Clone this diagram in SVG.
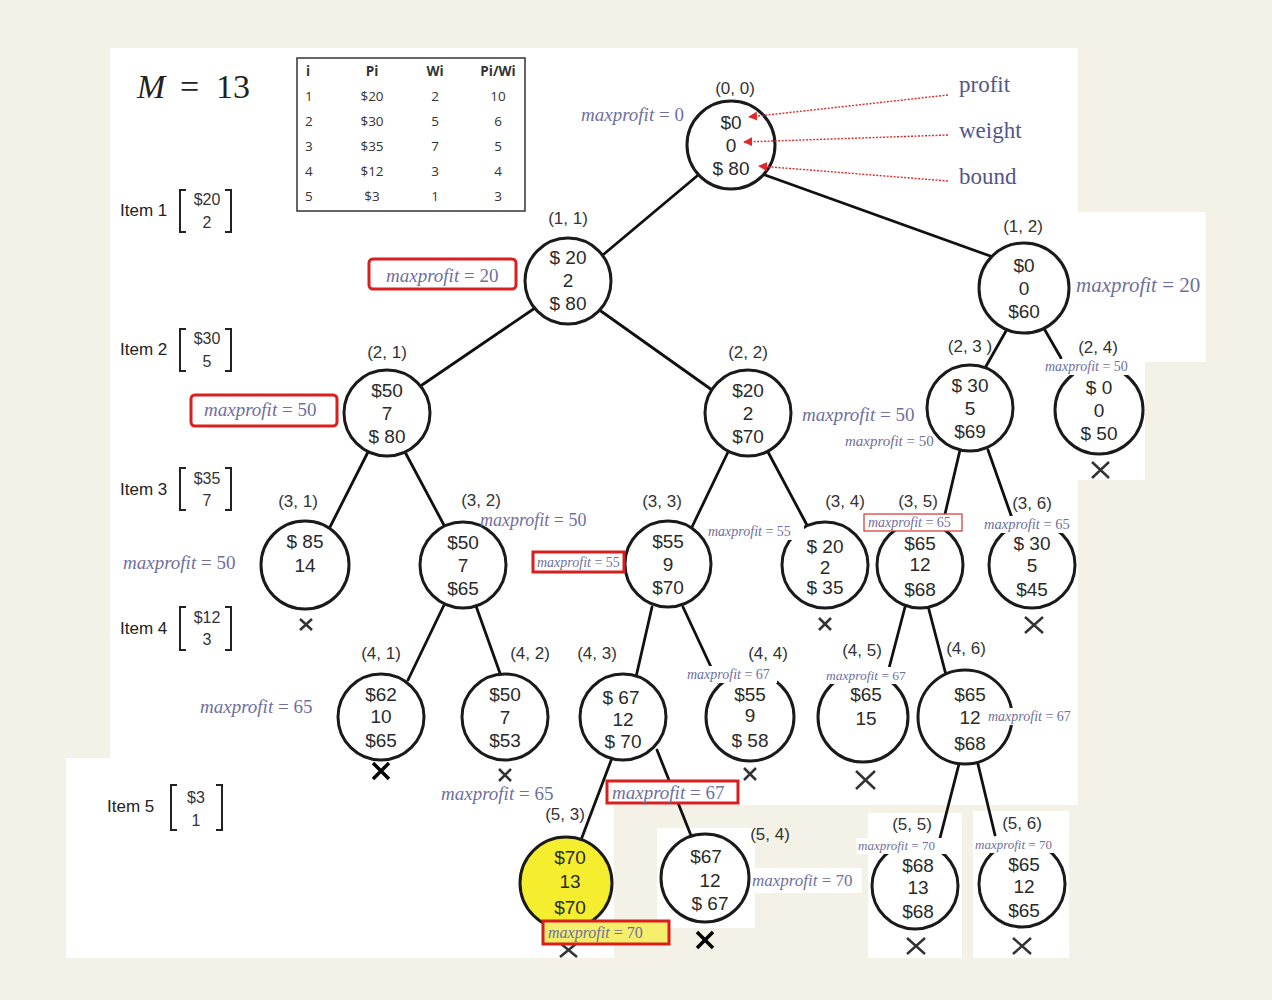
<svg xmlns="http://www.w3.org/2000/svg" width="1272" height="1000" viewBox="0 0 1272 1000">
<defs>
<style>
.bg{fill:#f4f2e6}
.pn{fill:#ffffff}
.wb{fill:#ffffff}
.nd{fill:#ffffff;stroke:#1a1a1a;stroke-width:3}
.nt{font-family:"Liberation Sans",Arial,sans-serif;font-size:19px;fill:#2a2a2a;text-anchor:middle}
.lb{font-family:"Liberation Sans",Arial,sans-serif;font-size:17px;fill:#333;text-anchor:middle}
.ed{stroke:#111;stroke-width:2.8;fill:none;stroke-linecap:round}
.mp{font-family:"Liberation Serif","Times New Roman",serif;fill:#6f6f9f}
.it{font-style:italic}
.rb{fill:#ffffff;stroke:#d81e1e;stroke-width:3}
.tb{font-family:"Open Sans","Liberation Sans",sans-serif;font-size:13.5px;fill:#333}
.item{font-family:"Liberation Sans",Arial,sans-serif;font-size:17px;fill:#222}
.br{fill:none;stroke:#222;stroke-width:2}
.bt{font-family:"Liberation Sans",Arial,sans-serif;font-size:16px;fill:#333;text-anchor:middle}
.x{stroke:#333;stroke-width:2.5;fill:none}
.xb{stroke:#000;stroke-width:3.5;fill:none}
.rl{font-family:"Liberation Serif","Times New Roman",serif;font-size:23px;fill:#55558a}
.ra{stroke:#e02828;stroke-width:1.4;stroke-dasharray:2 1.5;fill:none}
</style>
<marker id="ah" viewBox="0 0 10 10" refX="9" refY="5" markerWidth="9" markerHeight="9" markerUnits="userSpaceOnUse" orient="auto">
<path d="M0,0 L10,5 L0,10 z" fill="#e02828"/>
</marker>
</defs>

<g id="background">
<rect class="bg" x="0" y="0" width="1272" height="1000"/>
<rect class="pn" x="110" y="48" width="968" height="757"/>
<rect class="pn" x="66" y="758" width="548" height="200"/>
<rect class="pn" x="1078" y="212" width="128" height="150"/>
<rect class="pn" x="1078" y="362" width="67" height="118"/>
<rect class="pn" x="657" y="828" width="98" height="100"/>
<rect class="pn" x="738" y="868" width="124" height="25"/>
<rect class="pn" x="868" y="813" width="94" height="145"/>
<rect class="pn" x="973" y="811" width="96" height="147"/>
</g>

<g id="title">
<text x="137" y="98" font-family="Liberation Serif,serif" font-size="34" fill="#222"><tspan font-style="italic">M</tspan><tspan x="180">=</tspan><tspan x="216">13</tspan></text>
</g>

<g id="table">
<rect x="297" y="58" width="228" height="153" fill="none" stroke="#333" stroke-width="1.5"/>
<g class="tb" font-weight="bold">
<text x="306" y="76">i</text><text x="372" y="76" text-anchor="middle">Pi</text><text x="435" y="76" text-anchor="middle">Wi</text><text x="498" y="76" text-anchor="middle">Pi/Wi</text>
</g>
<g class="tb">
<text x="305" y="101">1</text><text x="372" y="101" text-anchor="middle">$20</text><text x="435" y="101" text-anchor="middle">2</text><text x="498" y="101" text-anchor="middle">10</text>
<text x="305" y="126">2</text><text x="372" y="126" text-anchor="middle">$30</text><text x="435" y="126" text-anchor="middle">5</text><text x="498" y="126" text-anchor="middle">6</text>
<text x="305" y="151">3</text><text x="372" y="151" text-anchor="middle">$35</text><text x="435" y="151" text-anchor="middle">7</text><text x="498" y="151" text-anchor="middle">5</text>
<text x="305" y="176">4</text><text x="372" y="176" text-anchor="middle">$12</text><text x="435" y="176" text-anchor="middle">3</text><text x="498" y="176" text-anchor="middle">4</text>
<text x="305" y="201">5</text><text x="372" y="201" text-anchor="middle">$3</text><text x="435" y="201" text-anchor="middle">1</text><text x="498" y="201" text-anchor="middle">3</text>
</g>
</g>

<g id="items">
<text class="item" x="120" y="216">Item 1</text>
<path class="br" d="M186,190 H180 V232 H186 M225,190 H231 V232 H225"/>
<text class="bt" x="207" y="205">$20</text><text class="bt" x="207" y="228">2</text>
<text class="item" x="120" y="355">Item 2</text>
<path class="br" d="M186,329 H180 V371 H186 M225,329 H231 V371 H225"/>
<text class="bt" x="207" y="344">$30</text><text class="bt" x="207" y="367">5</text>
<text class="item" x="120" y="495">Item 3</text>
<path class="br" d="M186,468 H180 V510 H186 M225,468 H231 V510 H225"/>
<text class="bt" x="207" y="484">$35</text><text class="bt" x="207" y="506">7</text>
<text class="item" x="120" y="634">Item 4</text>
<path class="br" d="M186,607 H180 V650 H186 M225,607 H231 V650 H225"/>
<text class="bt" x="207" y="623">$12</text><text class="bt" x="207" y="645">3</text>
<text class="item" x="107" y="812">Item 5</text>
<path class="br" d="M177,785 H171 V830 H177 M216,785 H222 V830 H216"/>
<text class="bt" x="196" y="803">$3</text><text class="bt" x="196" y="826">1</text>
</g>

<g id="connectors">
<line class="ed" x1="697" y1="176" x2="604" y2="254"/>
<line class="ed" x1="765" y1="175" x2="993" y2="257" stroke-width="3.5"/>
<line class="ed" x1="535" y1="308" x2="422" y2="385"/>
<line class="ed" x1="598" y1="309" x2="712" y2="390"/>
<line class="ed" x1="1006" y1="331" x2="985" y2="368"/>
<line class="ed" x1="1042" y1="325" x2="1061" y2="358"/>
<line class="ed" x1="368" y1="452" x2="330" y2="527"/>
<line class="ed" x1="405" y1="452" x2="445" y2="527"/>
<line class="ed" x1="728" y1="452" x2="692" y2="527"/>
<line class="ed" x1="768" y1="452" x2="808" y2="527"/>
<line class="ed" x1="960" y1="450" x2="945" y2="514"/>
<line class="ed" x1="988" y1="450" x2="1012" y2="518"/>
<line class="ed" x1="445" y1="603" x2="408" y2="680"/>
<line class="ed" x1="476" y1="606" x2="501" y2="676"/>
<line class="ed" x1="652" y1="607" x2="636" y2="677"/>
<line class="ed" x1="683" y1="607" x2="718" y2="682"/>
<line class="ed" x1="905" y1="607" x2="888" y2="672"/>
<line class="ed" x1="928" y1="606" x2="946" y2="675"/>
<line class="ed" x1="612" y1="758" x2="581" y2="840"/>
<line class="ed" x1="657" y1="750" x2="692" y2="838"/>
<line class="ed" x1="960" y1="760" x2="940" y2="838"/>
<line class="ed" x1="977" y1="760" x2="995" y2="835"/>
</g>

<g id="n00"><text class="lb" x="735" y="94">(0, 0)</text><circle class="nd" cx="731" cy="145" r="44"/><text class="nt" x="731" y="129">$0</text><text class="nt" x="731" y="152">0</text><text class="nt" x="731" y="175">$ 80</text></g>
<g id="n11"><text class="lb" x="568" y="224">(1, 1)</text><circle class="nd" cx="568" cy="281" r="43"/><text class="nt" x="568" y="264">$ 20</text><text class="nt" x="568" y="287">2</text><text class="nt" x="568" y="310">$ 80</text></g>
<g id="n12"><text class="lb" x="1023" y="232">(1, 2)</text><circle class="nd" cx="1024" cy="288" r="45"/><text class="nt" x="1024" y="272">$0</text><text class="nt" x="1024" y="295">0</text><text class="nt" x="1024" y="318">$60</text></g>
<g id="n21"><text class="lb" x="387" y="358">(2, 1)</text><circle class="nd" cx="387" cy="413" r="43"/><text class="nt" x="387" y="397">$50</text><text class="nt" x="387" y="420">7</text><text class="nt" x="387" y="443">$ 80</text></g>
<g id="n22"><text class="lb" x="748" y="358">(2, 2)</text><circle class="nd" cx="748" cy="413" r="43"/><text class="nt" x="748" y="397">$20</text><text class="nt" x="748" y="420">2</text><text class="nt" x="748" y="443">$70</text></g>
<g id="n23"><text class="lb" x="970" y="352">(2, 3 )</text><circle class="nd" cx="970" cy="408" r="43"/><text class="nt" x="970" y="392">$ 30</text><text class="nt" x="970" y="415">5</text><text class="nt" x="970" y="438">$69</text></g>
<g id="n24"><text class="lb" x="1098" y="353">(2, 4)</text><circle class="nd" cx="1099" cy="410" r="44"/><text class="nt" x="1099" y="394">$ 0</text><text class="nt" x="1099" y="417">0</text><text class="nt" x="1099" y="440">$ 50</text></g>
<g id="n31"><text class="lb" x="298" y="507">(3, 1)</text><circle class="nd" cx="305" cy="565" r="44"/><text class="nt" x="305" y="548">$ 85</text><text class="nt" x="305" y="572">14</text></g>
<g id="n32"><text class="lb" x="481" y="506">(3, 2)</text><circle class="nd" cx="463" cy="565" r="43"/><text class="nt" x="463" y="549">$50</text><text class="nt" x="463" y="572">7</text><text class="nt" x="463" y="595">$65</text></g>
<g id="n33"><text class="lb" x="662" y="507">(3, 3)</text><circle class="nd" cx="668" cy="564" r="43"/><text class="nt" x="668" y="548">$55</text><text class="nt" x="668" y="571">9</text><text class="nt" x="668" y="594">$70</text></g>
<g id="n34"><text class="lb" x="845" y="507">(3, 4)</text><circle class="nd" cx="825" cy="565" r="43"/><text class="nt" x="825" y="553">$ 20</text><text class="nt" x="825" y="574">2</text><text class="nt" x="825" y="594">$ 35</text></g>
<g id="n35"><text class="lb" x="918" y="507">(3, 5)</text><circle class="nd" cx="920" cy="565" r="43"/><text class="nt" x="920" y="550">$65</text><text class="nt" x="920" y="571">12</text><text class="nt" x="920" y="596">$68</text></g>
<g id="n36"><text class="lb" x="1032" y="509">(3, 6)</text><circle class="nd" cx="1032" cy="565" r="43"/><text class="nt" x="1032" y="550">$ 30</text><text class="nt" x="1032" y="572">5</text><text class="nt" x="1032" y="596">$45</text></g>
<g id="n41"><text class="lb" x="381" y="659">(4, 1)</text><circle class="nd" cx="381" cy="717" r="43"/><text class="nt" x="381" y="701">$62</text><text class="nt" x="381" y="723">10</text><text class="nt" x="381" y="747">$65</text></g>
<g id="n42"><text class="lb" x="530" y="659">(4, 2)</text><circle class="nd" cx="505" cy="717" r="43"/><text class="nt" x="505" y="701">$50</text><text class="nt" x="505" y="724">7</text><text class="nt" x="505" y="747">$53</text></g>
<g id="n43"><text class="lb" x="597" y="659">(4, 3)</text><circle class="nd" cx="623" cy="717" r="43"/><text class="nt" x="621" y="704">$ 67</text><text class="nt" x="623" y="726">12</text><text class="nt" x="623" y="748">$ 70</text></g>
<g id="n44"><text class="lb" x="768" y="659">(4, 4)</text><circle class="nd" cx="750" cy="717" r="44"/><text class="nt" x="750" y="701">$55</text><text class="nt" x="750" y="722">9</text><text class="nt" x="750" y="747">$ 58</text></g>
<g id="n45"><text class="lb" x="862" y="656">(4, 5)</text><circle class="nd" cx="863" cy="717" r="45"/><text class="nt" x="866" y="701">$65</text><text class="nt" x="866" y="725">15</text></g>
<g id="n46"><text class="lb" x="966" y="654">(4, 6)</text><circle class="nd" cx="965" cy="717" r="47"/><text class="nt" x="970" y="701">$65</text><text class="nt" x="970" y="724">12</text><text class="nt" x="970" y="750">$68</text></g>
<g id="n53"><text class="lb" x="565" y="820">(5, 3)</text><circle class="nd" cx="566" cy="883" r="46" style="fill:#f4ee2e"/><text class="nt" x="570" y="864">$70</text><text class="nt" x="570" y="888">13</text><text class="nt" x="570" y="914">$70</text></g>
<g id="n54"><text class="lb" x="770" y="840">(5, 4)</text><circle class="nd" cx="705" cy="878" r="44"/><text class="nt" x="706" y="863">$67</text><text class="nt" x="710" y="887">12</text><text class="nt" x="710" y="910">$ 67</text></g>
<g id="n55"><text class="lb" x="912" y="830">(5, 5)</text><circle class="nd" cx="915" cy="886" r="43"/><text class="nt" x="918" y="872">$68</text><text class="nt" x="918" y="894">13</text><text class="nt" x="918" y="918">$68</text></g>
<g id="n56"><text class="lb" x="1022" y="829">(5, 6)</text><circle class="nd" cx="1022" cy="884" r="43"/><text class="nt" x="1024" y="871">$65</text><text class="nt" x="1024" y="893">12</text><text class="nt" x="1024" y="917">$65</text></g>

<g id="legend">
<text class="rl" x="959" y="92">profit</text>
<text class="rl" x="959" y="138">weight</text>
<text class="rl" x="959" y="184">bound</text>
<path class="ra" d="M948,95 L749,117" marker-end="url(#ah)"/>
<path class="ra" d="M948,135 L744,142" marker-end="url(#ah)"/>
<path class="ra" d="M948,181 L759,166" marker-end="url(#ah)"/>
</g>

<g id="prune-marks">
<path class="x" d="M300,619 L312,630 M312,619 L300,630"/>
<path class="x" d="M1092,462 L1109,478 M1109,462 L1092,478"/>
<path class="x" d="M819,618 L831,630 M831,618 L819,630"/>
<path class="x" d="M1025,617 L1043,633 M1043,617 L1025,633"/>
<path class="xb" d="M373,763 L389,779 M389,763 L373,779"/>
<path class="x" d="M499,769 L511,781 M511,769 L499,781"/>
<path class="x" d="M744,768 L756,780 M756,768 L744,780"/>
<path class="x" d="M856,771 L875,789 M875,771 L856,789"/>
<path class="x" d="M560,943 L577,957 M577,943 L560,957"/>
<path class="xb" d="M697,932 L713,948 M713,932 L697,948"/>
<path class="x" d="M907,938 L925,954 M925,938 L907,954"/>
<path class="x" d="M1013,938 L1031,954 M1031,938 L1013,954"/>
</g>

<g id="maxprofit-labels">
<text class="mp" x="581" y="121" font-size="19"><tspan class="it">maxprofit</tspan> = 0</text>
<rect class="rb" x="369" y="259" width="147" height="30" rx="4"/>
<text class="mp" x="386" y="282" font-size="19"><tspan class="it">maxprofit</tspan> = 20</text>
<text class="mp" x="1076" y="292" font-size="21"><tspan class="it">maxprofit</tspan> = 20</text>
<rect class="rb" x="191" y="395" width="146" height="31" rx="4"/>
<text class="mp" x="204" y="416" font-size="19"><tspan class="it">maxprofit</tspan> = 50</text>
<text class="mp" x="802" y="421" font-size="19"><tspan class="it">maxprofit</tspan> = 50</text>
<text class="mp" x="845" y="446" font-size="15"><tspan class="it">maxprofit</tspan> = 50</text>
<rect class="wb" x="1043" y="359" width="100" height="16"/>
<text class="mp" x="1045" y="371" font-size="14"><tspan class="it">maxprofit</tspan> = 50</text>
<text class="mp" x="480" y="526" font-size="18"><tspan class="it">maxprofit</tspan> = 50</text>
<text class="mp" x="123" y="569" font-size="19"><tspan class="it">maxprofit</tspan> = 50</text>
<rect class="rb" x="533" y="552" width="91" height="20"/>
<text class="mp" x="537" y="567" font-size="14"><tspan class="it">maxprofit</tspan> = 55</text>
<rect class="wb" x="706" y="523" width="98" height="17"/>
<text class="mp" x="708" y="536" font-size="14"><tspan class="it">maxprofit</tspan> = 55</text>
<rect x="864" y="514" width="98" height="17" fill="#ffffff" stroke="#d83030" stroke-width="1.2"/>
<text class="mp" x="868" y="527" font-size="14"><tspan class="it">maxprofit</tspan> = 65</text>
<rect class="wb" x="982" y="516" width="92" height="17"/>
<text class="mp" x="984" y="529" font-size="14.5"><tspan class="it">maxprofit</tspan> = 65</text>
<rect class="wb" x="685" y="666" width="92" height="17"/>
<text class="mp" x="687" y="679" font-size="14"><tspan class="it">maxprofit</tspan> = 67</text>
<rect class="wb" x="824" y="667" width="84" height="17"/>
<text class="mp" x="826" y="680" font-size="13.5"><tspan class="it">maxprofit</tspan> = 67</text>
<rect class="wb" x="986" y="708" width="92" height="17"/>
<text class="mp" x="988" y="721" font-size="14"><tspan class="it">maxprofit</tspan> = 67</text>
<text class="mp" x="200" y="713" font-size="19"><tspan class="it">maxprofit</tspan> = 65</text>
<text class="mp" x="441" y="800" font-size="19"><tspan class="it">maxprofit</tspan> = 65</text>
<rect class="rb" x="607" y="781" width="131" height="22"/>
<text class="mp" x="612" y="799" font-size="19"><tspan class="it">maxprofit</tspan> = 67</text>
<rect class="rb" x="543" y="921" width="126" height="23" style="fill:#f4ee6a"/>
<text class="mp" x="548" y="938" font-size="16"><tspan class="it">maxprofit</tspan> = 70</text>
<text class="mp" x="752" y="886" font-size="17"><tspan class="it">maxprofit</tspan> = 70</text>
<rect class="wb" x="856" y="838" width="92" height="16"/>
<text class="mp" x="858" y="850" font-size="13"><tspan class="it">maxprofit</tspan> = 70</text>
<rect class="wb" x="973" y="837" width="92" height="16"/>
<text class="mp" x="975" y="849" font-size="13"><tspan class="it">maxprofit</tspan> = 70</text>
</g>
</svg>
